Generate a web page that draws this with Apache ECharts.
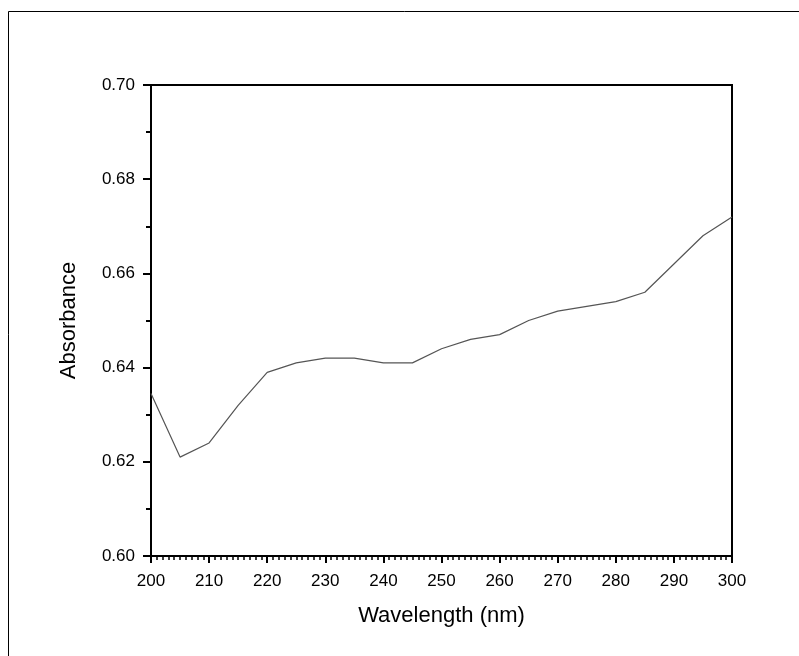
<!DOCTYPE html>
<html>
<head>
<meta charset="utf-8">
<script src="https://cdn.jsdelivr.net/npm/echarts@6/dist/echarts.min.js"></script>
<style>
  html, body { margin: 0; padding: 0; background: #fff; }
  #chart { width: 799px; height: 656px; }
</style>
</head>
<body>
<div id="chart"></div>
<script>
// wavelength (nm) and absorbance
const wavelength = [200, 205, 210, 215, 220, 225, 230, 235, 240, 245, 250,
  255, 260, 265, 270, 275, 280, 285, 290, 295, 300];
const absorbance = [0.6345, 0.621, 0.624, 0.632, 0.639, 0.641, 0.642, 0.642, 0.641, 0.641, 0.644,
  0.646, 0.647, 0.650, 0.652, 0.653, 0.654, 0.656, 0.662, 0.668, 0.672];

const chart = echarts.init(document.getElementById("chart"));
const font = "Liberation Sans, Arial, sans-serif";

chart.setOption({
  animation: false,
  // frame around the whole figure
  graphic: [
    {
      type: "rect",
      shape: { x: 8.5, y: 11.5, width: 820, height: 680 },
      style: { fill: "none", stroke: "#000", lineWidth: 1 },
    },
  ],
  grid: {
    left: 151, top: 85, width: 581, height: 471,
    show: true, borderColor: "#000", borderWidth: 2, backgroundColor: "#fff",
  },
  xAxis: {
    type: "value",
    min: 200, max: 300, interval: 10,
    name: "Wavelength (nm)",
    nameLocation: "middle",
    nameGap: 49,
    nameTextStyle: { fontFamily: font, fontSize: 22, color: "#000" },
    axisLine: { lineStyle: { color: "#000", width: 2 } },
    axisTick: { length: 7, lineStyle: { color: "#000", width: 2 } },
    minorTick: { show: true, splitNumber: 10, length: 4, lineStyle: { color: "#000", width: 1.5 } },
    axisLabel: { margin: 17, fontFamily: font, fontSize: 17, color: "#000" },
    splitLine: { show: false },
  },
  yAxis: {
    type: "value",
    min: 0.6, max: 0.7, interval: 0.02,
    name: "Absorbance",
    nameLocation: "middle",
    nameGap: 71,
    nameTextStyle: { fontFamily: font, fontSize: 22, color: "#000" },
    axisLine: { lineStyle: { color: "#000", width: 2 } },
    axisTick: { length: 8, lineStyle: { color: "#000", width: 2 } },
    minorTick: { show: true, splitNumber: 2, length: 5, lineStyle: { color: "#000", width: 2 } },
    axisLabel: {
      margin: 16, fontFamily: font, fontSize: 17, color: "#000",
      formatter: (v) => v.toFixed(2),
    },
    splitLine: { show: false },
  },
  series: [
    {
      type: "line",
      data: wavelength.map((w, i) => [w, absorbance[i]]),
      symbol: "none",
      lineStyle: { color: "#555", width: 1.2 },
    },
  ],
});
</script>
</body>
</html>
